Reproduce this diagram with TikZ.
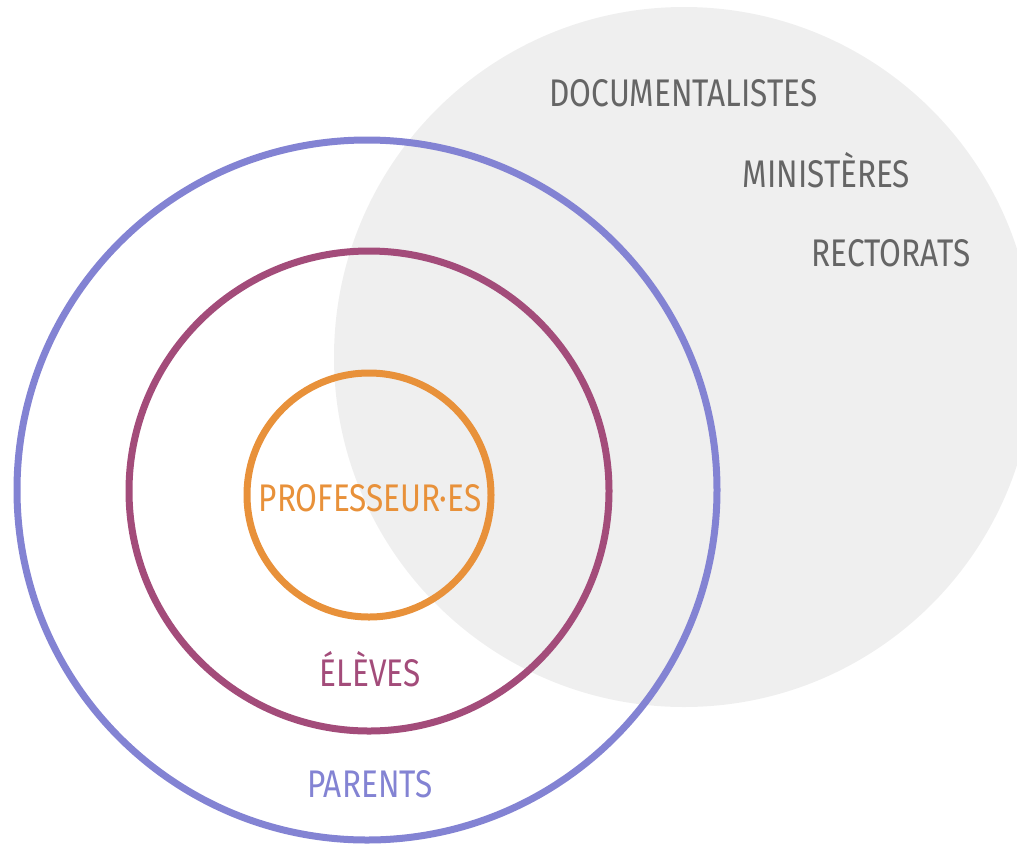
\documentclass[tikz,border=0pt]{standalone}
\usepackage{fontspec}
\setmainfont{Fira Sans}[FakeStretch=0.82]
\definecolor{bgc}{HTML}{EFEFEF}
\definecolor{bluec}{HTML}{8383D3}
\definecolor{purc}{HTML}{A34C7A}
\definecolor{orc}{HTML}{E8913A}
\definecolor{txtc}{HTML}{656565}
\begin{document}
\begin{tikzpicture}[x=1pt,y=-1pt,
  ring/.style={line width=7pt},
  lbl/.style={anchor=base,inner sep=0pt,font=\fontsize{38.5}{42}\selectfont}]
\useasboundingbox (0,0) rectangle (1017,844);
\fill[bgc] (684,357) circle[radius=350];
\draw[ring,bluec] (367,490) circle[radius=350];
\draw[ring,purc] (369,491) circle[radius=240];
\draw[ring,orc] (369,495) circle[radius=122];
\node[lbl,txtc] (doc) at (683.5,106) {DOCUMENTALISTES};
\node[lbl,txtc] (min) at (826.5,187) {MINISTÈRES};
\node[lbl,txtc] (rec) at (891,266) {RECTORATS};
\node[lbl,orc] (prof) at (370,511.5) {PROFESSEUR·ES};
\node[lbl,purc] (elev) at (370,686) {ÉLÈVES};
\node[lbl,bluec] (par) at (370,797) {PARENTS};
\end{tikzpicture}
\end{document}
